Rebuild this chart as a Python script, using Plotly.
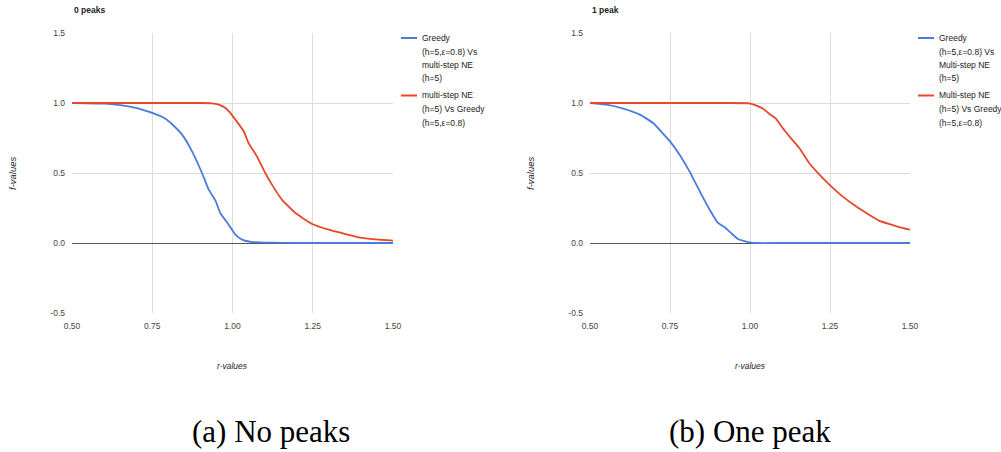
import plotly.graph_objects as go

W, H = 1001, 452

# ---- data: (a) No peaks ----
a_greedy_r = [0.5, 0.604, 0.656, 0.708, 0.75, 0.791, 0.811, 0.843, 0.874, 0.905, 0.926, 0.947, 0.962, 0.988, 1.009, 1.03, 1.061, 1.123, 1.2, 1.3, 1.4, 1.5]
a_greedy_f = [1.0, 0.995, 0.983, 0.96, 0.929, 0.888, 0.85, 0.774, 0.655, 0.5, 0.381, 0.302, 0.214, 0.131, 0.06, 0.024, 0.007, 0.002, 0.0, 0.0, 0.0, 0.0]
a_ne_r = [0.5, 0.6, 0.7, 0.8, 0.9, 0.936, 0.957, 0.978, 0.993, 1.009, 1.035, 1.05, 1.076, 1.102, 1.123, 1.154, 1.196, 1.248, 1.3, 1.352, 1.403, 1.455, 1.5]
a_ne_f = [1.0, 1.0, 1.0, 1.0, 1.0, 0.998, 0.988, 0.964, 0.929, 0.881, 0.798, 0.714, 0.619, 0.5, 0.417, 0.31, 0.214, 0.136, 0.095, 0.064, 0.036, 0.024, 0.017]

# ---- data: (b) One peak ----
b_greedy_r = [0.5, 0.552, 0.604, 0.656, 0.697, 0.75, 0.78, 0.811, 0.843, 0.874, 0.9, 0.921, 0.941, 0.962, 0.998, 1.019, 1.1, 1.2, 1.3, 1.4, 1.5]
b_greedy_f = [1.0, 0.988, 0.96, 0.917, 0.857, 0.726, 0.631, 0.512, 0.369, 0.238, 0.143, 0.112, 0.071, 0.029, 0.005, 0.0, 0.0, 0.0, 0.0, 0.0, 0.0]
b_ne_r = [0.5, 0.6, 0.7, 0.8, 0.9, 0.998, 1.019, 1.04, 1.061, 1.081, 1.102, 1.123, 1.154, 1.185, 1.217, 1.248, 1.289, 1.331, 1.372, 1.403, 1.434, 1.466, 1.5]
b_ne_f = [1.0, 1.0, 1.0, 1.0, 1.0, 0.998, 0.983, 0.96, 0.921, 0.888, 0.821, 0.762, 0.679, 0.571, 0.488, 0.417, 0.333, 0.262, 0.202, 0.16, 0.136, 0.114, 0.095]

x_ticks = [0.5, 0.75, 1.0, 1.25, 1.5]
x_tick_labels = ["0.50", "0.75", "1.00", "1.25", "1.50"]
y_ticks = [-0.5, 0.0, 0.5, 1.0, 1.5]
y_tick_labels = ["-0.5", "0.0", "0.5", "1.0", "1.5"]

titles = ["0 peaks", "1 peak"]
captions = ["(a) No peaks", "(b) One peak"]
legend_a = [["Greedy", "(h=5,ε=0.8) Vs", "multi-step NE", "(h=5)"],
            ["multi-step NE", "(h=5) Vs Greedy", "(h=5,ε=0.8)"]]
legend_b = [["Greedy", "(h=5,ε=0.8) Vs", "Multi-step NE", "(h=5)"],
            ["Multi-step NE", "(h=5) Vs Greedy", "(h=5,ε=0.8)"]]

BLUE = "#4a7bdc"
RED = "#e8472b"
FONT = "Liberation Sans, Arial, sans-serif"
TXT = "#222222"

def px(x):
    return x / W

def py(y):
    return 1 - y / H

fig = go.Figure()

LINE_KW = dict(width=1.8, shape="spline", smoothing=0.4)
fig.add_trace(go.Scatter(x=a_greedy_r, y=a_greedy_f, mode="lines", line=dict(color=BLUE, **LINE_KW), xaxis="x", yaxis="y", showlegend=False))
fig.add_trace(go.Scatter(x=a_ne_r, y=a_ne_f, mode="lines", line=dict(color=RED, **LINE_KW), xaxis="x", yaxis="y", showlegend=False))
fig.add_trace(go.Scatter(x=b_greedy_r, y=b_greedy_f, mode="lines", line=dict(color=BLUE, **LINE_KW), xaxis="x2", yaxis="y2", showlegend=False))
fig.add_trace(go.Scatter(x=b_ne_r, y=b_ne_f, mode="lines", line=dict(color=RED, **LINE_KW), xaxis="x2", yaxis="y2", showlegend=False))

plot_left = [72, 590]
plot_right = [393, 910]
plot_top, plot_bottom = 33, 313

def xaxis_cfg(i):
    return dict(domain=[px(plot_left[i]), px(plot_right[i])], range=[0.5, 1.5],
                tickvals=x_ticks, ticktext=x_tick_labels, showgrid=True, gridcolor="#dcdcdc",
                gridwidth=1, zeroline=False, showline=False, ticks="", ticklabelstandoff=6,
                tickfont=dict(family=FONT, size=8.5, color="#444444"), automargin=False,
                anchor="y" if i == 0 else "y2", fixedrange=True)

def yaxis_cfg(i):
    return dict(domain=[py(plot_bottom), py(plot_top)], range=[-0.5, 1.5],
                tickvals=y_ticks, ticktext=y_tick_labels, showgrid=True, gridcolor="#dcdcdc",
                gridwidth=1, zeroline=True, zerolinecolor="#555555", zerolinewidth=1,
                showline=False, ticks="", ticklabelstandoff=6, automargin=False,
                tickfont=dict(family=FONT, size=8.5, color="#444444"),
                anchor="x" if i == 0 else "x2", fixedrange=True)

annotations = []
shapes = []
for i in range(2):
    off = plot_left[i] - plot_left[0]
    annotations.append(dict(text="<b>" + titles[i] + "</b>", x=px(plot_left[i]), y=py(10), xref="paper", yref="paper",
                            xanchor="left", yanchor="middle", showarrow=False,
                            font=dict(family=FONT, size=8.5, color=TXT)))
    annotations.append(dict(text="<i>f-values</i>", x=px(12 + off), y=py(173), xref="paper", yref="paper",
                            xanchor="center", yanchor="middle", textangle=-90, showarrow=False,
                            font=dict(family=FONT, size=9.5, color=TXT)))
    annotations.append(dict(text="<i>r-values</i>", x=px((plot_left[i] + plot_right[i]) / 2), y=py(366), xref="paper", yref="paper",
                            xanchor="center", yanchor="middle", showarrow=False,
                            font=dict(family=FONT, size=8.5, color=TXT)))
    leg = legend_a if i == 0 else legend_b
    lx0 = plot_right[i] + 8
    tx = lx0 + 19
    ys_start = [38, 95.5]
    for k, (lines, col) in enumerate(zip(leg, [BLUE, RED])):
        y0 = ys_start[k]
        shapes.append(dict(type="line", xref="paper", yref="paper", x0=px(lx0), x1=px(lx0 + 16),
                           y0=py(y0), y1=py(y0), line=dict(color=col, width=2)))
        for j, t in enumerate(lines):
            annotations.append(dict(text=t, x=px(tx), y=py(y0 + j * 13.5), xref="paper", yref="paper",
                                    xanchor="left", yanchor="middle", showarrow=False,
                                    font=dict(family=FONT, size=8.5, color=TXT)))
    cap_x = [190, 667][i]
    annotations.append(dict(text=captions[i], x=px(cap_x), y=py(431), xref="paper", yref="paper",
                            xanchor="left", yanchor="middle", showarrow=False,
                            font=dict(family="Liberation Serif, DejaVu Serif, serif", size=31, color="#000000")))

fig.update_layout(
    width=W, height=H, margin=dict(l=0, r=0, t=0, b=0, pad=0),
    paper_bgcolor="white", plot_bgcolor="white",
    xaxis=xaxis_cfg(0), yaxis=yaxis_cfg(0),
    xaxis2=xaxis_cfg(1), yaxis2=yaxis_cfg(1),
    annotations=annotations, shapes=shapes, showlegend=False,
)

fig.write_html("out.html", config={"displayModeBar": False},
               post_script="document.body.style.margin='0';document.body.style.overflow='hidden';")
